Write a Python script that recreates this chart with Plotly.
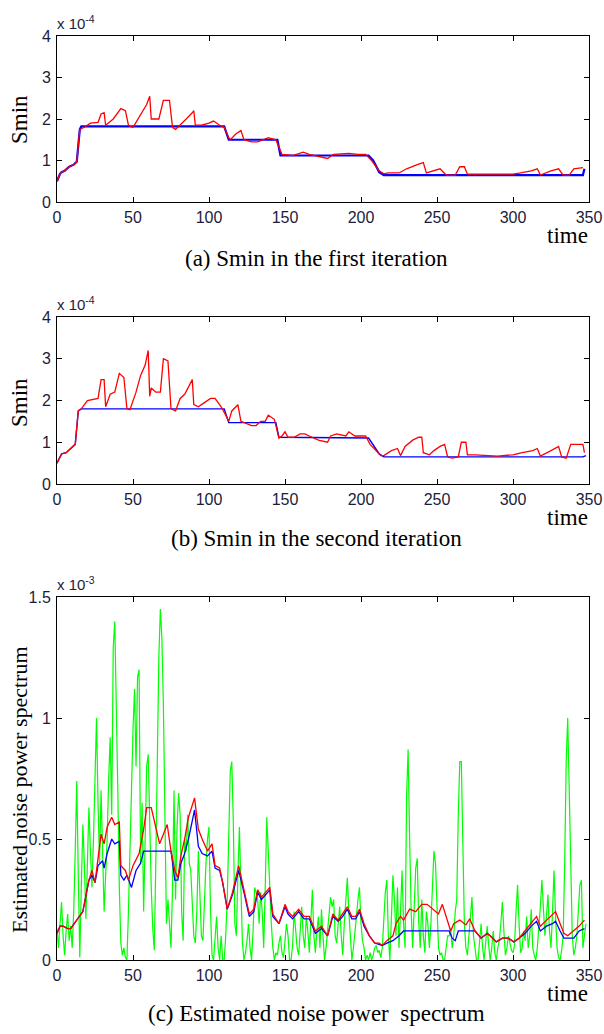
import plotly.graph_objects as go

# ---------------- Panel (a): Smin in the first iteration (x 1e-4) ----------------
a_red_t = [0, 2, 3, 5, 8, 11, 13, 15, 18, 22, 27, 29, 31, 32, 37, 42, 45, 47, 50, 55, 59, 61, 62, 67, 70, 74, 76,
           78, 81, 85, 89, 90, 91, 95, 100, 103, 107, 110, 113, 114, 118, 121, 123, 128, 132, 136, 139, 144, 148,
           155, 162, 166, 172, 178, 182, 192, 198, 203, 207, 212, 215, 218, 225, 230, 237, 241, 243, 248, 252,
           256, 262, 265, 268, 270, 290, 300, 305, 312, 316, 318, 325, 330, 333, 337, 340, 346]
a_red_v = [0.5, 0.68, 0.72, 0.75, 0.85, 0.9, 0.97, 1.75, 1.8, 1.9, 1.92, 2.12, 2.15, 1.85, 2.0, 2.25, 2.2, 1.85,
           1.8, 2.1, 2.35, 2.55, 2.0, 2.0, 2.45, 2.45, 1.8, 1.75, 1.85, 2.0, 2.15, 2.2, 1.85, 1.85, 1.9, 1.95, 1.85,
           1.8, 1.55, 1.5, 1.65, 1.72, 1.5, 1.45, 1.45, 1.5, 1.55, 1.5, 1.15, 1.12, 1.2, 1.15, 1.1, 1.05, 1.15,
           1.17, 1.15, 1.15, 1.0, 0.75, 0.68, 0.7, 0.7, 0.8, 0.9, 0.95, 0.7, 0.75, 0.8, 0.65, 0.65, 0.85, 0.85,
           0.67, 0.67, 0.67, 0.7, 0.75, 0.8, 0.65, 0.75, 0.8, 0.65, 0.65, 0.8, 0.83]
a_blue_t = [0, 2, 3, 5, 8, 11, 13, 15, 16, 110, 113, 145, 147, 205, 208, 212, 215, 346, 347]
a_blue_v = [0.5, 0.68, 0.72, 0.75, 0.85, 0.9, 0.97, 1.75, 1.82, 1.82, 1.5, 1.5, 1.12, 1.12, 1.0, 0.72, 0.65, 0.65, 0.8]

# ---------------- Panel (b): Smin in the second iteration (x 1e-4) ----------------
b_red_t = [0, 3, 6, 9, 12, 14, 16, 20, 24, 27, 29, 31, 32, 35, 38, 41, 44, 46, 48, 52, 55, 58, 60, 61, 62, 65,
           68, 70, 73, 75, 78, 81, 84, 87, 89, 90, 93, 97, 101, 104, 108, 111, 113, 115, 119, 121, 124, 128, 131,
           134, 137, 139, 143, 146, 148, 150, 152, 156, 160, 163, 166, 172, 178, 180, 184, 190, 192, 196, 200,
           203, 206, 210, 213, 215, 220, 224, 226, 229, 234, 238, 240, 241, 245, 248, 252, 255, 257, 260, 264,
           266, 269, 270, 275, 290, 300, 306, 313, 316, 318, 325, 330, 332, 335, 338, 346, 347]
b_red_v = [0.5, 0.72, 0.75, 0.85, 0.95, 1.75, 1.8, 2.0, 2.03, 2.05, 2.5, 2.5, 1.85, 2.15, 2.2, 2.65, 2.55, 1.8,
           1.78, 2.2, 2.6, 2.85, 3.2, 2.1, 2.3, 2.2, 2.2, 3.0, 2.95, 1.8, 1.75, 2.05, 2.15, 2.35, 2.5, 1.9, 1.85,
           1.95, 2.05, 2.05, 1.85, 1.65, 1.5, 1.75, 1.9, 1.5, 1.45, 1.4, 1.4, 1.5, 1.5, 1.65, 1.55, 1.1, 1.15,
           1.25, 1.12, 1.12, 1.2, 1.2, 1.15, 1.05, 1.0, 1.15, 1.2, 1.15, 1.25, 1.15, 1.15, 1.15, 0.95, 0.8, 0.68,
           0.68, 0.8, 0.85, 0.68, 0.9, 1.05, 1.12, 1.12, 0.75, 0.7, 0.8, 0.9, 0.95, 0.65, 0.62, 0.65, 1.0, 1.0,
           0.7, 0.7, 0.67, 0.7, 0.75, 0.8, 0.85, 0.67, 0.8, 0.9, 0.65, 0.62, 0.95, 0.95, 0.75]
b_blue_t = [0, 3, 6, 9, 12, 14, 16, 110, 113, 144, 146, 205, 208, 212, 215, 346, 348]
b_blue_v = [0.5, 0.72, 0.75, 0.85, 0.95, 1.75, 1.8, 1.8, 1.47, 1.47, 1.12, 1.1, 0.95, 0.72, 0.65, 0.65, 0.68]

# ---------------- Panel (c): Estimated noise power spectrum (x 1e-3) ----------------
c_green_v = [
    0.13, 0.05, 0.15, 0.24, 0.10, 0.02, 0.12, 0.19, 0.08, 0.14, 0.05, 0.20, 0.45, 0.74, 0.35, 0.01, 0.30, 0.56,
    0.40, 0.17, 0.40, 0.63, 0.45, 0.30, 0.50, 0.72, 1.00, 0.65, 0.40, 0.70, 0.45, 0.20, 0.35, 0.50, 0.75, 0.92,
    0.60, 1.29, 1.40, 1.10, 0.70, 0.30, 0.07, 0.02, 0.05, 0.01, 0.00, 0.20, 0.45, 0.76, 0.95, 1.12, 0.80, 1.17,
    1.20, 0.40, 0.65, 0.20, 0.55, 0.80, 0.85, 0.50, 0.30, 0.13, 0.04, 0.40, 0.90, 1.25, 1.45, 1.33, 1.05, 0.50,
    0.15, 0.25, 0.13, 0.05, 0.30, 0.70, 0.25, 0.55, 0.69, 0.60, 0.20, 0.08, 0.50, 0.45, 0.60, 0.40, 0.37, 0.20,
    0.10, 0.07, 0.20, 0.45, 0.30, 0.10, 0.08, 0.25, 0.40, 0.50, 0.55, 0.20, 0.02, 0.00, 0.10, 0.18, 0.05, 0.00,
    0.10, 0.00, 0.00, 0.10, 0.25, 0.50, 0.78, 0.82, 0.57, 0.15, 0.10, 0.35, 0.55, 0.30, 0.07, 0.00, 0.03, 0.08,
    0.15, 0.05, 0.00, 0.12, 0.30, 0.28, 0.25, 0.15, 0.28, 0.20, 0.05, 0.30, 0.59, 0.45, 0.28, 0.15, 0.05, 0.00,
    0.03, 0.02, 0.07, 0.10, 0.03, 0.01, 0.08, 0.15, 0.10, 0.00, 0.00, 0.06, 0.20, 0.12, 0.05, 0.02, 0.15, 0.22,
    0.10, 0.05, 0.18, 0.12, 0.03, 0.15, 0.29, 0.10, 0.03, 0.12, 0.18, 0.05, 0.21, 0.10, 0.00, 0.05, 0.13, 0.20,
    0.26, 0.22, 0.25, 0.10, 0.07, 0.15, 0.22, 0.10, 0.02, 0.15, 0.25, 0.34, 0.20, 0.08, 0.00, 0.05, 0.13, 0.18,
    0.25, 0.30, 0.15, 0.08, 0.05, 0.00, 0.02, 0.00, 0.03, 0.00, 0.02, 0.05, 0.06, 0.03, 0.04, 0.01, 0.05, 0.15,
    0.28, 0.33, 0.10, 0.00, 0.20, 0.35, 0.25, 0.10, 0.30, 0.05, 0.20, 0.37, 0.15, 0.05, 0.68, 0.87, 0.50, 0.20,
    0.05, 0.25, 0.38, 0.42, 0.15, 0.05, 0.25, 0.10, 0.03, 0.20, 0.15, 0.05, 0.15, 0.30, 0.45, 0.40, 0.20, 0.05,
    0.02, 0.03, 0.00, 0.00, 0.05, 0.10, 0.10, 0.13, 0.05, 0.10, 0.20, 0.25, 0.60, 0.82, 0.82, 0.45, 0.15, 0.05,
    0.02, 0.10, 0.20, 0.26, 0.10, 0.04, 0.00, 0.00, 0.08, 0.15, 0.05, 0.00, 0.07, 0.14, 0.06, 0.00, 0.05, 0.12,
    0.03, 0.00, 0.05, 0.08, 0.15, 0.24, 0.12, 0.02, 0.05, 0.10, 0.07, 0.04, 0.03, 0.06, 0.20, 0.31, 0.15, 0.03,
    0.05, 0.12, 0.08, 0.18, 0.05, 0.10, 0.21, 0.05, 0.02, 0.00, 0.05, 0.12, 0.22, 0.33, 0.20, 0.10, 0.18, 0.27,
    0.12, 0.05, 0.20, 0.37, 0.18, 0.05, 0.01, 0.00, 0.04, 0.10, 0.40, 0.82, 1.00, 0.70, 0.30, 0.10, 0.02, 0.05,
    0.10, 0.20, 0.31, 0.33, 0.05, 0.10, 0.15]
c_green_t = list(range(len(c_green_v)))

c_red_t = [0, 2, 4, 7, 9, 13, 17, 21, 23, 25, 27, 29, 31, 33, 36, 38, 41, 42, 45, 47, 50, 54, 57, 59, 62, 65,
           67.5, 70, 72.5, 75, 77.5, 79.5, 81.5, 84, 86.5, 90.5, 93, 95.5, 99, 102, 104, 107, 109, 112, 115.5,
           119.5, 123, 126.5, 129.5, 132, 134.5, 137, 140, 142, 146, 150, 152, 155, 159, 162.5, 166, 170, 174,
           178, 181.5, 185, 188, 191, 194, 196.5, 199, 202, 205.5, 209, 212, 214, 217, 221, 223, 226, 228, 232,
           236, 240, 243.5, 247, 251, 253.5, 256, 259, 261, 265, 269, 271.5, 275, 279, 283, 285, 289, 293, 297,
           300.5, 304, 308, 312, 315.5, 318, 322, 326, 328, 331, 333.5, 336, 340, 343.5, 347]
c_red_v = [0.11, 0.14, 0.14, 0.13, 0.13, 0.165, 0.2, 0.33, 0.37, 0.32, 0.43, 0.52, 0.48, 0.55, 0.59, 0.56, 0.57,
           0.39, 0.37, 0.33, 0.39, 0.44, 0.54, 0.63, 0.63, 0.55, 0.48, 0.52, 0.56, 0.45, 0.37, 0.34, 0.43, 0.5,
           0.59, 0.67, 0.54, 0.5, 0.45, 0.48, 0.39, 0.38, 0.32, 0.21, 0.28, 0.39, 0.29, 0.19, 0.21, 0.29, 0.26,
           0.28, 0.3, 0.19, 0.15, 0.23, 0.2, 0.18, 0.21, 0.18, 0.18, 0.12, 0.14, 0.1, 0.19, 0.165, 0.19, 0.22,
           0.18, 0.18, 0.21, 0.15, 0.1, 0.07, 0.07, 0.06, 0.08, 0.1, 0.15, 0.18, 0.165, 0.21, 0.2, 0.23, 0.23,
           0.21, 0.19, 0.23, 0.18, 0.12, 0.15, 0.165, 0.145, 0.17, 0.12, 0.09, 0.11, 0.1, 0.075, 0.09, 0.09,
           0.075, 0.09, 0.12, 0.15, 0.18, 0.14, 0.165, 0.19, 0.2, 0.15, 0.11, 0.1, 0.12, 0.14, 0.165]
c_blue_t = [0, 2, 4, 7, 9, 13, 17, 21, 23, 25, 27, 30, 31, 33, 36, 38, 41, 42, 44, 46, 49, 52, 55, 57, 75, 77.5,
            79.5, 81.5, 84, 86.5, 88, 90.5, 93, 95.5, 99, 102, 104, 107, 109, 112, 115.5, 119.5, 123, 126.5,
            129.5, 132, 134.5, 137, 140, 142, 146, 150, 152, 155, 159, 162.5, 166, 170, 174, 178, 181.5, 185,
            188, 191, 194, 196.5, 199, 202, 205.5, 209, 212, 214, 217, 221, 225, 228, 258, 260, 262, 264, 275,
            279, 283, 285, 289, 293, 297, 300.5, 304, 308, 312, 315.5, 318, 322, 326, 328, 331, 333.5, 336, 340,
            343.5, 347]
c_blue_v = [0.11, 0.14, 0.14, 0.13, 0.13, 0.165, 0.2, 0.33, 0.35, 0.32, 0.39, 0.41, 0.38, 0.44, 0.5, 0.48, 0.49,
            0.35, 0.33, 0.35, 0.3, 0.37, 0.4, 0.45, 0.45, 0.33, 0.33, 0.4, 0.44, 0.5, 0.55, 0.62, 0.47, 0.44,
            0.43, 0.45, 0.38, 0.37, 0.32, 0.21, 0.27, 0.37, 0.28, 0.18, 0.2, 0.28, 0.25, 0.27, 0.29, 0.18, 0.15,
            0.22, 0.19, 0.17, 0.2, 0.17, 0.17, 0.11, 0.13, 0.1, 0.18, 0.16, 0.18, 0.21, 0.17, 0.17, 0.2, 0.14,
            0.1, 0.07, 0.065, 0.06, 0.07, 0.08, 0.1, 0.12, 0.12, 0.09, 0.08, 0.12, 0.12, 0.09, 0.11, 0.1, 0.075,
            0.09, 0.09, 0.075, 0.09, 0.11, 0.14, 0.16, 0.12, 0.14, 0.15, 0.16, 0.12, 0.09, 0.09, 0.09, 0.12, 0.13]

x_ticks = [0, 50, 100, 150, 200, 250, 300, 350]
ab_yticks = [0, 1, 2, 3, 4]
c_yticks = [0, 0.5, 1, 1.5]
c_yticklabels = ["0", "0.5", "1", "1.5"]

captions = ["(a) Smin in the first iteration", "(b) Smin in the second iteration",
            "(c) Estimated noise power  spectrum"]
exponents = ["x 10<sup>-4</sup>", "x 10<sup>-4</sup>", "x 10<sup>-3</sup>"]
ylabels = ["Smin", "Smin", "Estimated noise power spectrum"]

W, H = 604, 1034
XL, XR = 57, 589
panels_px = [(36, 202), (317, 484), (597, 960)]  # top, bottom pixel rows
caption_px = [258, 538, 1013]
ylabel_px = [120, 403, 790]
ylabel_size = [23, 23, 22]


def py(p):
    return 1 - p / H


RED, BLUE, GREEN = "#ff0000", "#0000ff", "#00ff00"
fig = go.Figure()
fig.add_trace(go.Scatter(x=a_blue_t, y=a_blue_v, mode="lines", line=dict(color=BLUE, width=2.2),
                         xaxis="x", yaxis="y", showlegend=False))
fig.add_trace(go.Scatter(x=a_red_t, y=a_red_v, mode="lines", line=dict(color=RED, width=1.3),
                         xaxis="x", yaxis="y", showlegend=False))
fig.add_trace(go.Scatter(x=b_blue_t, y=b_blue_v, mode="lines", line=dict(color=BLUE, width=1.4),
                         xaxis="x2", yaxis="y2", showlegend=False))
fig.add_trace(go.Scatter(x=b_red_t, y=b_red_v, mode="lines", line=dict(color=RED, width=1.3),
                         xaxis="x2", yaxis="y2", showlegend=False))
fig.add_trace(go.Scatter(x=c_green_t, y=c_green_v, mode="lines", line=dict(color=GREEN, width=1.2),
                         xaxis="x3", yaxis="y3", showlegend=False))
fig.add_trace(go.Scatter(x=c_blue_t, y=c_blue_v, mode="lines", line=dict(color=BLUE, width=1.3),
                         xaxis="x3", yaxis="y3", showlegend=False))
fig.add_trace(go.Scatter(x=c_red_t, y=c_red_v, mode="lines", line=dict(color=RED, width=1.3),
                         xaxis="x3", yaxis="y3", showlegend=False))

tickfont = dict(family="Liberation Sans, Arial", size=16, color="#1c1c3a")
common_axis = dict(showline=True, linecolor="black", linewidth=1, mirror="ticks", ticks="inside",
                   ticklen=5, tickcolor="black", showgrid=False, zeroline=False, tickfont=tickfont,
                   automargin=False, fixedrange=True)

layout = dict(width=W, height=H, margin=dict(l=0, r=0, t=0, b=0, pad=0), plot_bgcolor="white",
              paper_bgcolor="white", showlegend=False)
for i, (top, bot) in enumerate(panels_px):
    sfx = "" if i == 0 else str(i + 1)
    layout["xaxis" + sfx] = dict(common_axis, domain=[XL / W, XR / W], range=[0, 350],
                                 tickvals=x_ticks, anchor="y" + sfx, ticklabelstandoff=1)
    if i < 2:
        layout["yaxis" + sfx] = dict(common_axis, domain=[py(bot), py(top)], range=[0, 4],
                                     tickvals=ab_yticks, anchor="x" + sfx, ticklabelstandoff=2)
    else:
        layout["yaxis" + sfx] = dict(common_axis, domain=[py(bot), py(top)], range=[0, 1.5],
                                     tickvals=c_yticks, ticktext=c_yticklabels, anchor="x" + sfx,
                                     ticklabelstandoff=2)
fig.update_layout(**layout)

serif = "Liberation Serif, Times New Roman, serif"
ann = []
for i, (top, bot) in enumerate(panels_px):
    # exponent label
    ann.append(dict(x=(XL - 2) / W, y=py(top - 2), xref="paper", yref="paper", xanchor="left",
                    yanchor="bottom", text=exponents[i], showarrow=False,
                    font=dict(family="Liberation Sans, Arial", size=15, color="#1c1c3a")))
    # time label
    ann.append(dict(x=(XR + 1) / W, y=py(bot + 33), xref="paper", yref="paper", xanchor="right",
                    yanchor="middle", text="time", showarrow=False,
                    font=dict(family=serif, size=23, color="black")))
    # caption
    ann.append(dict(x=316 / W, y=py(caption_px[i]), xref="paper", yref="paper", xanchor="center",
                    yanchor="middle", text=captions[i], showarrow=False,
                    font=dict(family=serif, size=23, color="black")))
    # y label
    ann.append(dict(x=19 / W, y=py(ylabel_px[i]), xref="paper", yref="paper", xanchor="center",
                    yanchor="middle", text=ylabels[i], textangle=-90, showarrow=False,
                    font=dict(family=serif, size=ylabel_size[i], color="black")))
fig.update_layout(annotations=ann)

fig.write_html("out.html")
